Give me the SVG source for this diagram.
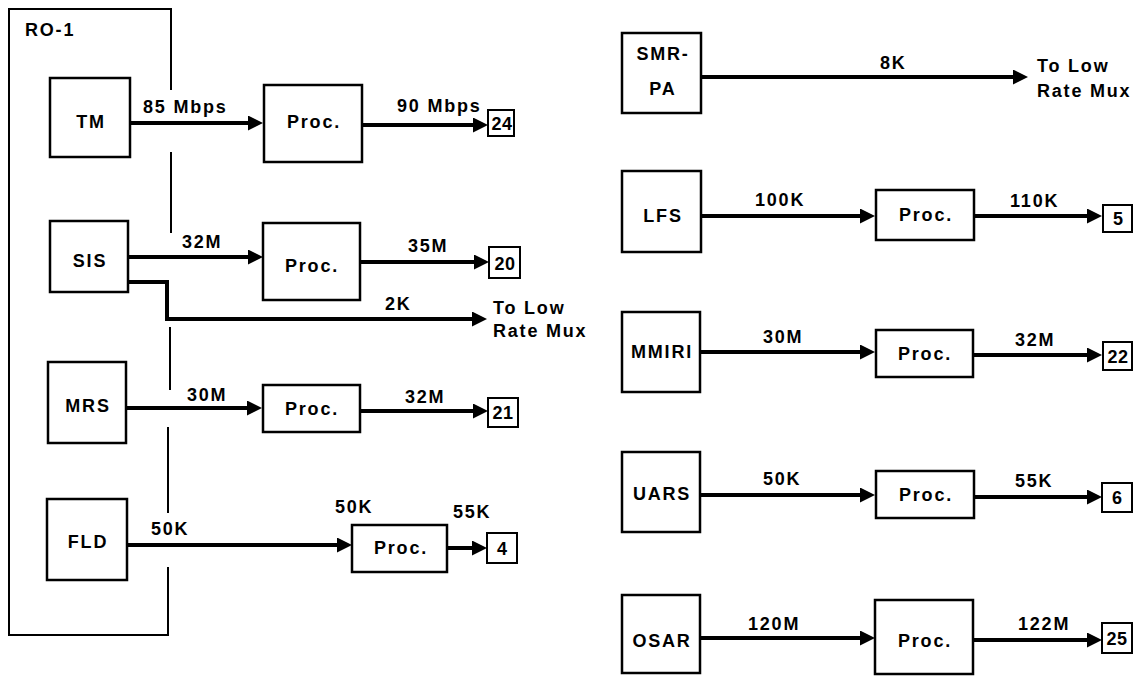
<svg xmlns="http://www.w3.org/2000/svg" width="1147" height="677" viewBox="0 0 1147 677">
<defs>
<style>
.bx{fill:none;stroke:#000;stroke-width:2.5}
.nb{fill:none;stroke:#000;stroke-width:2}
.fr{fill:none;stroke:#000;stroke-width:2}
.ar{fill:none;stroke:#000;stroke-width:4;marker-end:url(#ah)}
.t{font-family:"Liberation Sans",Arial,sans-serif;font-weight:bold;font-size:18px;letter-spacing:1.8px;fill:#000}
.c{text-anchor:middle}
</style>
<marker id="ah" markerUnits="userSpaceOnUse" markerWidth="16" markerHeight="16" viewBox="0 0 16 16" refX="7" refY="7.5" orient="auto">
<path d="M0,0 L15,7.5 L0,15 z" fill="#000"/>
</marker>
</defs>
<rect width="1147" height="677" fill="#fff"/>

<g id="frame-RO-1">
<path class="fr" d="M171,90 V9 H9 V635 H168 V567"/>
<path class="fr" d="M171,152 V233 M170,327 V390 M168,427 V513"/>
<text class="t" x="25" y="36">RO-1</text>
</g>

<g id="connectors">
<path class="ar" d="M130,123 H255"/>
<path class="ar" d="M362,125 H480"/>
<path class="ar" d="M128,257 H255"/>
<path class="ar" d="M360,262 H481"/>
<path class="ar" d="M128,282 H167 V319 H479"/>
<path class="ar" d="M126,408 H254"/>
<path class="ar" d="M360,411 H480"/>
<path class="ar" d="M127,545 H344"/>
<path class="ar" d="M447,548 H479"/>
<path class="ar" d="M701,77 H1020"/>
<path class="ar" d="M701,216 H867"/>
<path class="ar" d="M974,216 H1094"/>
<path class="ar" d="M700,352 H867"/>
<path class="ar" d="M973,355 H1094"/>
<path class="ar" d="M700,495 H867"/>
<path class="ar" d="M974,497 H1094"/>
<path class="ar" d="M700,638 H867"/>
<path class="ar" d="M973,640 H1094"/>
<text class="t" x="143" y="113">85 Mbps</text>
<text class="t" x="397" y="112">90 Mbps</text>
<text class="t" x="182" y="248">32M</text>
<text class="t" x="408" y="252">35M</text>
<text class="t" x="385" y="310">2K</text>
<text class="t" x="187" y="401">30M</text>
<text class="t" x="405" y="403">32M</text>
<text class="t" x="151" y="535">50K</text>
<text class="t" x="335" y="513">50K</text>
<text class="t" x="453" y="518">55K</text>
<text class="t" x="880" y="69">8K</text>
<text class="t" x="755" y="206">100K</text>
<text class="t" x="1010" y="207">110K</text>
<text class="t" x="763" y="343">30M</text>
<text class="t" x="1015" y="346">32M</text>
<text class="t" x="763" y="485">50K</text>
<text class="t" x="1015" y="487">55K</text>
<text class="t" x="748" y="630">120M</text>
<text class="t" x="1018" y="630">122M</text>
</g>

<g id="TM"><rect class="bx" x="50" y="78" width="80" height="79"/><text class="t c" x="91" y="128">TM</text></g>
<g id="proc-TM"><rect class="bx" x="264" y="85" width="98" height="77"/><text class="t c" x="314" y="128">Proc.</text></g>
<g id="out-24"><rect class="nb" x="488" y="110" width="26" height="26"/><text class="t c" x="502" y="130" style="letter-spacing:0.5px">24</text></g>

<g id="SIS"><rect class="bx" x="50" y="221" width="78" height="71"/><text class="t c" x="90" y="267">SIS</text></g>
<g id="proc-SIS"><rect class="bx" x="263" y="223" width="97" height="77"/><text class="t c" x="312" y="272">Proc.</text></g>
<g id="out-20"><rect class="nb" x="489" y="247" width="31" height="31"/><text class="t c" x="505" y="270" style="letter-spacing:0.5px">20</text></g>
<g id="lowrate-1"><text class="t" x="493" y="314">To Low</text><text class="t" x="493" y="337">Rate Mux</text></g>

<g id="MRS"><rect class="bx" x="48" y="362" width="78" height="81"/><text class="t c" x="88" y="412">MRS</text></g>
<g id="proc-MRS"><rect class="bx" x="263" y="385" width="97" height="47"/><text class="t c" x="312" y="415">Proc.</text></g>
<g id="out-21"><rect class="nb" x="488" y="398" width="30" height="29"/><text class="t c" x="503" y="419" style="letter-spacing:0.5px">21</text></g>

<g id="FLD"><rect class="bx" x="47" y="499" width="80" height="81"/><text class="t c" x="88" y="548">FLD</text></g>
<g id="proc-FLD"><rect class="bx" x="352" y="525" width="95" height="47"/><text class="t c" x="401" y="554">Proc.</text></g>
<g id="out-4"><rect class="nb" x="487" y="533" width="30" height="30"/><text class="t c" x="502" y="555" style="letter-spacing:0">4</text></g>

<g id="SMR-PA"><rect class="bx" x="622" y="33" width="79" height="80"/><text class="t c" x="663" y="60">SMR-</text><text class="t c" x="663" y="95">PA</text></g>
<g id="lowrate-2"><text class="t" x="1037" y="72">To Low</text><text class="t" x="1037" y="97">Rate Mux</text></g>

<g id="LFS"><rect class="bx" x="622" y="171" width="79" height="81"/><text class="t c" x="663" y="222">LFS</text></g>
<g id="proc-LFS"><rect class="bx" x="876" y="190" width="98" height="50"/><text class="t c" x="926" y="221">Proc.</text></g>
<g id="out-5"><rect class="nb" x="1103" y="205" width="29" height="27"/><text class="t c" x="1118" y="225" style="letter-spacing:0">5</text></g>

<g id="MMIRI"><rect class="bx" x="622" y="312" width="78" height="80"/><text class="t c" x="662" y="358">MMIRI</text></g>
<g id="proc-MMIRI"><rect class="bx" x="876" y="330" width="97" height="47"/><text class="t c" x="925" y="360">Proc.</text></g>
<g id="out-22"><rect class="nb" x="1103" y="342" width="29" height="28"/><text class="t c" x="1118" y="363" style="letter-spacing:0.5px">22</text></g>

<g id="UARS"><rect class="bx" x="622" y="452" width="78" height="80"/><text class="t c" x="662" y="500">UARS</text></g>
<g id="proc-UARS"><rect class="bx" x="876" y="471" width="98" height="47"/><text class="t c" x="926" y="501">Proc.</text></g>
<g id="out-6"><rect class="nb" x="1102" y="483" width="30" height="29"/><text class="t c" x="1117" y="504" style="letter-spacing:0">6</text></g>

<g id="OSAR"><rect class="bx" x="622" y="595" width="78" height="78"/><text class="t c" x="662" y="647">OSAR</text></g>
<g id="proc-OSAR"><rect class="bx" x="875" y="600" width="98" height="74"/><text class="t c" x="925" y="647">Proc.</text></g>
<g id="out-25"><rect class="nb" x="1102" y="623" width="30" height="30"/><text class="t c" x="1117" y="645" style="letter-spacing:0.5px">25</text></g>
</svg>
